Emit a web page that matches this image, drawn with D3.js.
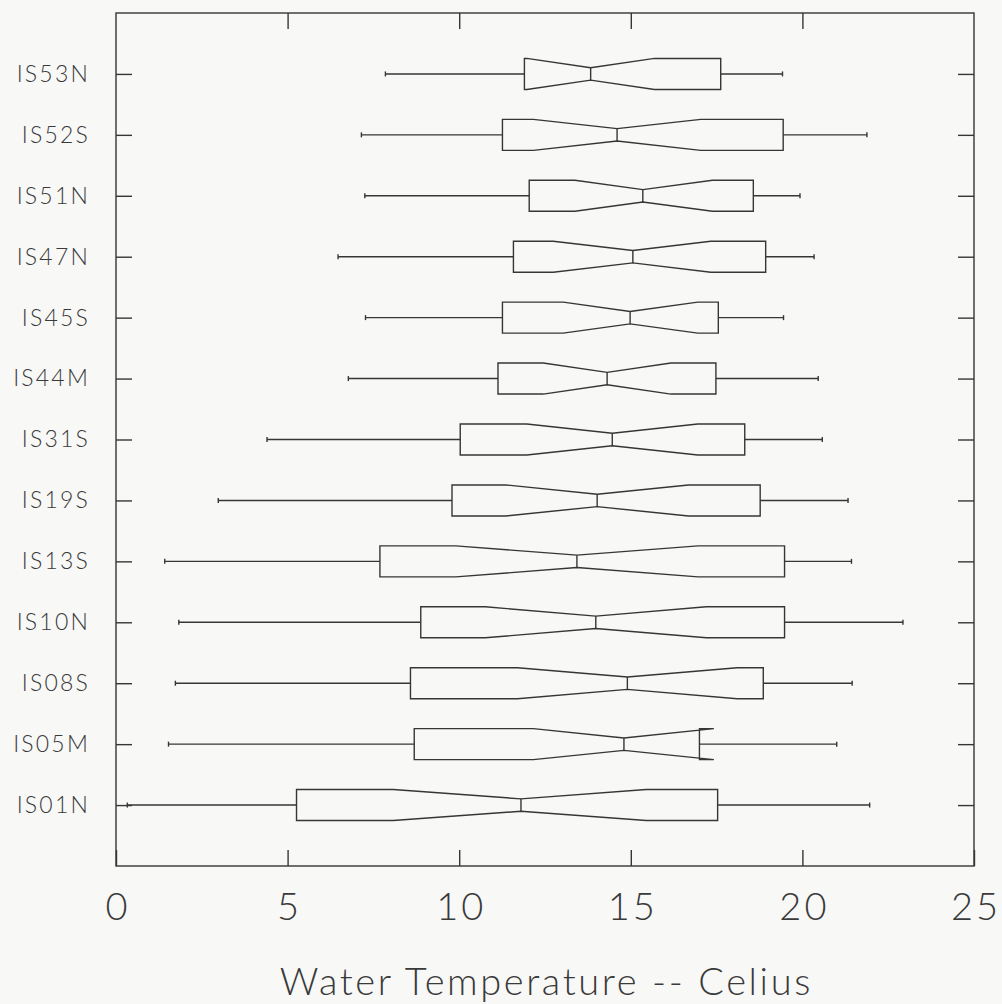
<!DOCTYPE html>
<html>
<head>
<meta charset="utf-8">
<script src="https://cdn.jsdelivr.net/npm/d3@7"></script>
<style>
  html, body { margin: 0; padding: 0; background: #f8f8f7; }
  svg { display: block; }
  text { font-family: Lato, "Liberation Sans", sans-serif; font-weight: 300; fill: #3a3a3a; }
</style>
</head>
<body>
<svg id="chart" width="1002" height="1004"></svg>
<script>
// Stations, listed top to bottom
const stations = ["IS53N","IS52S","IS51N","IS47N","IS45S","IS44M","IS31S","IS19S","IS13S","IS10N","IS08S","IS05M","IS01N"];
// Five-number summaries (degrees Celsius)
const whiskerLow  = [7.85, 7.15, 7.25, 6.47, 7.27, 6.77, 4.40, 2.98, 1.42, 1.83, 1.73, 1.53, 0.33];
const lowerQuart  = [11.90, 11.26, 12.04, 11.58, 11.26, 11.13, 10.03, 9.79, 7.69, 8.88, 8.58, 8.69, 5.26];
const medians     = [13.83, 14.60, 15.35, 15.06, 14.98, 14.31, 14.46, 14.02, 13.43, 13.98, 14.90, 14.80, 11.80];
const upperQuart  = [17.62, 19.44, 18.57, 18.93, 17.55, 17.48, 18.32, 18.77, 19.48, 19.48, 18.86, 17.00, 17.53];
const whiskerHigh = [19.42, 21.88, 19.93, 20.34, 19.45, 20.46, 20.58, 21.33, 21.43, 22.93, 21.45, 21.00, 21.96];
// Notch limits around each median
const notchLow    = [11.97, 12.16, 13.37, 12.74, 13.03, 12.45, 11.97, 11.36, 9.90, 10.76, 11.70, 12.16, 8.08];
const notchHigh   = [15.69, 17.04, 17.38, 17.33, 16.95, 16.17, 16.95, 16.68, 16.96, 17.20, 18.10, 17.42, 15.45];
// Axis
const xTicks = [0, 5, 10, 15, 20, 25];
const xTitle = "Water Temperature -- Celius";

const rows = stations.map((s, i) => ({
  station: s, lo: whiskerLow[i], q1: lowerQuart[i], med: medians[i],
  q3: upperQuart[i], hi: whiskerHigh[i], nLo: notchLow[i], nHi: notchHigh[i]
}));

const svg = d3.select("#chart");
const plotL = 116, plotR = 974, plotT = 13, plotB = 866;
const ink = "#363636";
const fontStack = "Lato, 'Liberation Sans', sans-serif";

const x = d3.scaleLinear().domain([0, 25]).range([plotL, plotR]);
const y = d3.scalePoint().domain(stations).range([plotT, plotB]).padding(1);

const boxHalf = 15.5, waist = 6.2, capHalf = 2.5, tickLen = 16;

// Frame
svg.append("rect")
  .attr("x", plotL).attr("y", plotT)
  .attr("width", plotR - plotL).attr("height", plotB - plotT)
  .attr("fill", "none").attr("stroke", ink).attr("stroke-width", 1.4);

function styleAxis(g) {
  g.select(".domain").remove();
  g.selectAll(".tick line").attr("stroke", ink).attr("stroke-width", 1.4);
}

// Bottom axis with labels, ticks pointing inward
svg.append("g")
  .attr("transform", `translate(0,${plotB})`)
  .call(d3.axisBottom(x).tickValues(xTicks).tickSizeInner(-tickLen).tickSizeOuter(0).tickPadding(27).tickFormat(d3.format("d")))
  .call(styleAxis)
  .call(g => g.selectAll(".tick text").attr("font-size", 38).attr("fill", ink)
    .attr("letter-spacing", 3).attr("dx", 1.5)
    .style("font-family", fontStack).style("font-weight", 300));

// Top axis, ticks only
svg.append("g")
  .attr("transform", `translate(0,${plotT})`)
  .call(d3.axisTop(x).tickValues(xTicks.slice(1, -1)).tickSizeInner(-tickLen).tickSizeOuter(0).tickFormat(""))
  .call(styleAxis);

// Left axis with station labels
svg.append("g")
  .attr("transform", `translate(${plotL},0)`)
  .call(d3.axisLeft(y).tickSizeInner(-tickLen).tickSizeOuter(0).tickPadding(26))
  .call(styleAxis)
  .call(g => g.selectAll(".tick text").attr("font-size", 23).attr("fill", ink)
    .attr("letter-spacing", 2.2)
    .style("font-family", fontStack).style("font-weight", 300));

// Right axis, ticks only
svg.append("g")
  .attr("transform", `translate(${plotR},0)`)
  .call(d3.axisRight(y).tickSizeInner(-tickLen).tickSizeOuter(0).tickFormat(""))
  .call(styleAxis);

// Axis title
svg.append("text")
  .attr("x", (plotL + plotR) / 2 + 1.3).attr("y", 995)
  .attr("text-anchor", "middle").attr("font-size", 38)
  .attr("letter-spacing", 2.6)
  .attr("fill", ink)
  .text(xTitle);

// Notched boxes
const boxes = svg.append("g").attr("fill", "none").attr("stroke", ink).attr("stroke-width", 1.4)
  .selectAll("g").data(rows).join("g");

// Whiskers
boxes.append("line")
  .attr("x1", d => x(d.lo)).attr("x2", d => x(d.q1))
  .attr("y1", d => y(d.station)).attr("y2", d => y(d.station));
boxes.append("line")
  .attr("x1", d => x(d.q3)).attr("x2", d => x(d.hi))
  .attr("y1", d => y(d.station)).attr("y2", d => y(d.station));
// Whisker end caps
boxes.append("line")
  .attr("x1", d => x(d.lo)).attr("x2", d => x(d.lo))
  .attr("y1", d => y(d.station) - capHalf).attr("y2", d => y(d.station) + capHalf);
boxes.append("line")
  .attr("x1", d => x(d.hi)).attr("x2", d => x(d.hi))
  .attr("y1", d => y(d.station) - capHalf).attr("y2", d => y(d.station) + capHalf);

// Box outline narrowing to the median
boxes.append("path")
  .attr("stroke-linejoin", "miter")
  .attr("d", d => {
    const c = y(d.station), t = c - boxHalf, b = c + boxHalf;
    const pts = [
      [x(d.q1), t], [x(d.nLo), t], [x(d.med), c - waist], [x(d.nHi), t], [x(d.q3), t],
      [x(d.q3), b], [x(d.nHi), b], [x(d.med), c + waist], [x(d.nLo), b], [x(d.q1), b]
    ];
    return d3.line()(pts) + "Z";
  });

// Median
boxes.append("line")
  .attr("x1", d => x(d.med)).attr("x2", d => x(d.med))
  .attr("y1", d => y(d.station) - waist).attr("y2", d => y(d.station) + waist);
</script>
</body>
</html>
